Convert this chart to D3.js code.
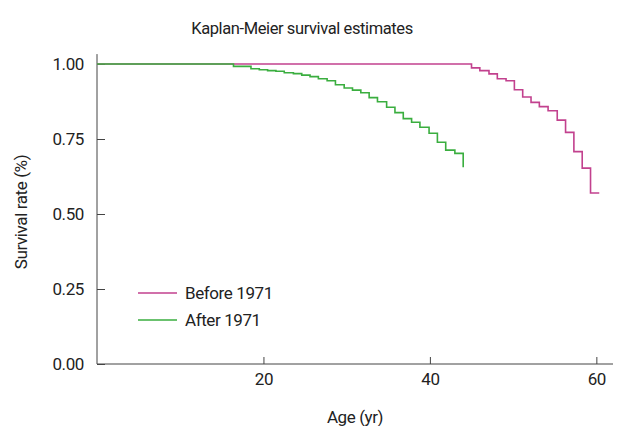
<!DOCTYPE html>
<html>
<head>
<meta charset="utf-8">
<script src="https://cdn.jsdelivr.net/npm/d3@7"></script>
<style>
  body { margin: 0; background: #fff; }
  text { font-family: Roboto, "Open Sans", sans-serif; fill: #222; letter-spacing: -0.4px; }
</style>
</head>
<body>
<svg id="svg_km" width="625" height="426"></svg>
<script>
// data
var seriesNames = ["Before 1971", "After 1971"];
var beforeAge  = [0, 45.0, 46.0, 47.1, 48.1, 49.15, 50.15, 51.15, 52.15, 53.15, 54.2, 55.3, 56.3, 57.3, 58.3, 59.3, 60.35];
var beforeSurv = [1, 0.987, 0.978, 0.967, 0.951, 0.944, 0.914, 0.89, 0.872, 0.858, 0.844, 0.813, 0.772, 0.708, 0.653, 0.57, 0.57];
var afterAge  = [0, 16.4, 18.5, 19.5, 20.5, 21.5, 22.5, 23.6, 24.6, 25.6, 26.6, 27.65, 28.65, 29.7, 30.7, 31.7, 32.7, 33.7, 34.8, 35.8, 36.8, 37.8, 38.8, 39.9, 40.9, 41.9, 43.0, 44.0];
var afterSurv = [1, 0.992, 0.984, 0.981, 0.978, 0.976, 0.971, 0.968, 0.963, 0.958, 0.951, 0.944, 0.931, 0.92, 0.913, 0.904, 0.888, 0.874, 0.856, 0.838, 0.818, 0.806, 0.789, 0.769, 0.739, 0.713, 0.702, 0.656];
var xTicks = [20, 40, 60];
var yTicks = [0, 0.25, 0.5, 0.75, 1];
var colors = ["#c2418e", "#3aae3f"];

var svg = d3.select("#svg_km");

// scales
var x = d3.scaleLinear().domain([0, 62]).range([97, 613]);
var y = d3.scaleLinear().domain([0, 1]).range([364, 64]);

var axisColor = "#444";

// axes (ticks point inward)
var xAxis = svg.append("g")
    .attr("transform", "translate(0," + y(0) + ")")
    .call(d3.axisBottom(x).tickValues(xTicks).tickSizeInner(-7).tickSizeOuter(0).tickPadding(9).tickFormat(d3.format("d")));
xAxis.select(".domain").attr("d", "M" + x(0) + ",0H" + x(62)).attr("stroke", axisColor);
xAxis.selectAll(".tick line").attr("stroke", axisColor);
xAxis.selectAll("text").style("font-size", "17px").style("font-family", "Roboto, sans-serif").attr("fill", "#222");

var yAxis = svg.append("g")
    .attr("transform", "translate(" + x(0) + ",0)")
    .call(d3.axisLeft(y).tickValues(yTicks).tickSizeInner(-8).tickSizeOuter(0).tickPadding(13).tickFormat(d3.format(".2f")));
yAxis.select(".domain").attr("d", "M0," + y(0) + "V" + y(1.033)).attr("stroke", axisColor);
yAxis.selectAll(".tick line").attr("stroke", axisColor);
yAxis.selectAll("text").style("font-size", "17px").style("font-family", "Roboto, sans-serif").attr("fill", "#222");

// step curves
var line = d3.line()
    .x(function(d) { return x(d[0]); })
    .y(function(d) { return y(d[1]); })
    .curve(d3.curveStepAfter);

var series = [
  d3.zip(beforeAge, beforeSurv),
  d3.zip(afterAge, afterSurv)
];

svg.append("g")
  .selectAll("path")
  .data(series)
  .enter()
  .append("path")
  .attr("d", line)
  .attr("fill", "none")
  .attr("stroke", function(d, i) { return colors[i]; })
  .attr("stroke-width", 1.6);

// title
svg.append("text")
  .attr("x", 302)
  .attr("y", 34)
  .attr("text-anchor", "middle")
  .style("font-size", "16.5px")
  .text("Kaplan-Meier survival estimates");

// axis titles
svg.append("text")
  .attr("transform", "translate(27,212) rotate(-90)")
  .attr("text-anchor", "middle")
  .style("font-size", "17px")
  .text("Survival rate (%)");

svg.append("text")
  .attr("x", 355)
  .attr("y", 423)
  .attr("text-anchor", "middle")
  .style("font-size", "17px")
  .text("Age (yr)");

// legend
var legend = svg.append("g");
seriesNames.forEach(function(name, i) {
  var ly = 293 + i * 27;
  legend.append("line")
    .attr("x1", 138).attr("x2", 177)
    .attr("y1", ly).attr("y2", ly)
    .attr("stroke", colors[i])
    .attr("stroke-width", 1.4);
  legend.append("text")
    .attr("x", 185)
    .attr("y", ly)
    .attr("dy", "0.35em")
    .style("font-size", "17px")
    .text(name);
});
</script>
</body>
</html>
